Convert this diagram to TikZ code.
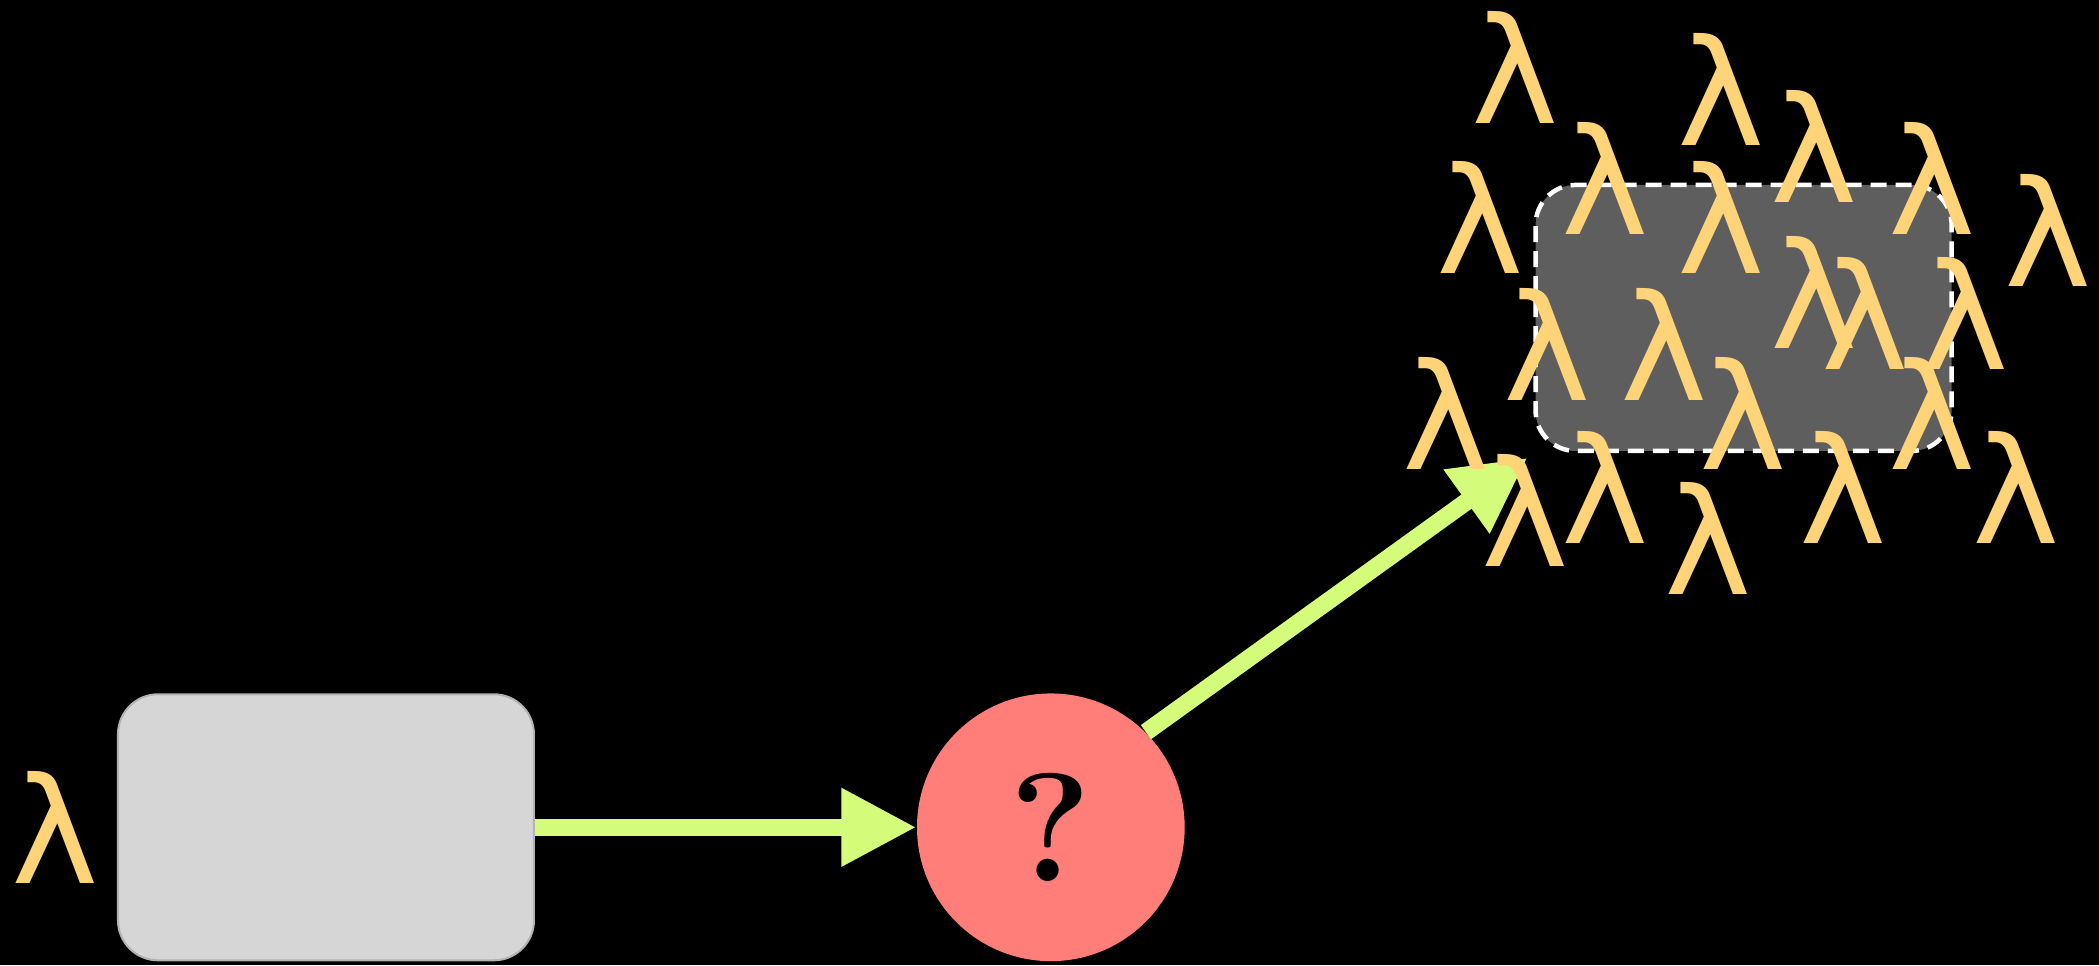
\documentclass[tikz,border=0pt]{standalone}
\usepackage{fontspec}
\usetikzlibrary{arrows.meta, positioning}
\newfontfamily\lamfont{DejaVu Sans}
\definecolor{cantaloupe}{HTML}{FFD479}
\definecolor{honeydew}{HTML}{D4FB79}
\definecolor{salmon}{HTML}{FF7E79}
\definecolor{mercury}{HTML}{D6D6D6}
\definecolor{iron}{HTML}{5E5E5E}

\begin{document}
\begin{tikzpicture}[x=0.13387mm, y=-0.13387mm,
    tile/.style={rectangle, rounded corners=4mm, minimum width=41.6mm, minimum height=26.6mm, inner sep=0},
    flow/.style={draw=honeydew, line width=1.74mm, -{Triangle[length=7.5mm, width=7.4mm]}},
    lam/.style={anchor=base, inner sep=0, text=cantaloupe, font=\lamfont\fontsize{42}{48}\selectfont}]

    % Background
    \path[use as bounding box, fill=black] (0,0) rectangle (1568,720.9);

    % Nodes
    \node[tile, fill=mercury, draw=gray!60, line width=0.2mm] (src) at (243.5,618) {};
    \node[lam] (lam0) at (41,660) {λ};
    \node[circle, fill=salmon, minimum size=26.77mm, inner sep=0, font=\bfseries\fontsize{44}{50}\selectfont] (ask) at (785,618) {?};
    \node[tile, fill=iron, draw=white, line width=0.45mm, dash pattern=on 1.6mm off 0.9mm] (pool) at (1302.5,237.5) {};
    \coordinate (tip) at (1141,342);

    % Arrows
    \draw[flow] (src) -- (ask);
    \draw[flow] (ask.45) -- (tip);

    % Lambdas round the pool
    \foreach \x/\y [count=\i] in {1132/92, 1286/109, 1355/151, 1443/175, 1199/175,
        1106/204, 1286/204, 1530/214, 1355/260, 1393/276, 1468/276, 1156/299,
        1243/299, 1302/351, 1443/351, 1080/351, 1139/423, 1199/406, 1276/444,
        1377/406, 1506/406}
        \node[lam] (lam\i) at (\x,\y) {λ};

\end{tikzpicture}
\end{document}
